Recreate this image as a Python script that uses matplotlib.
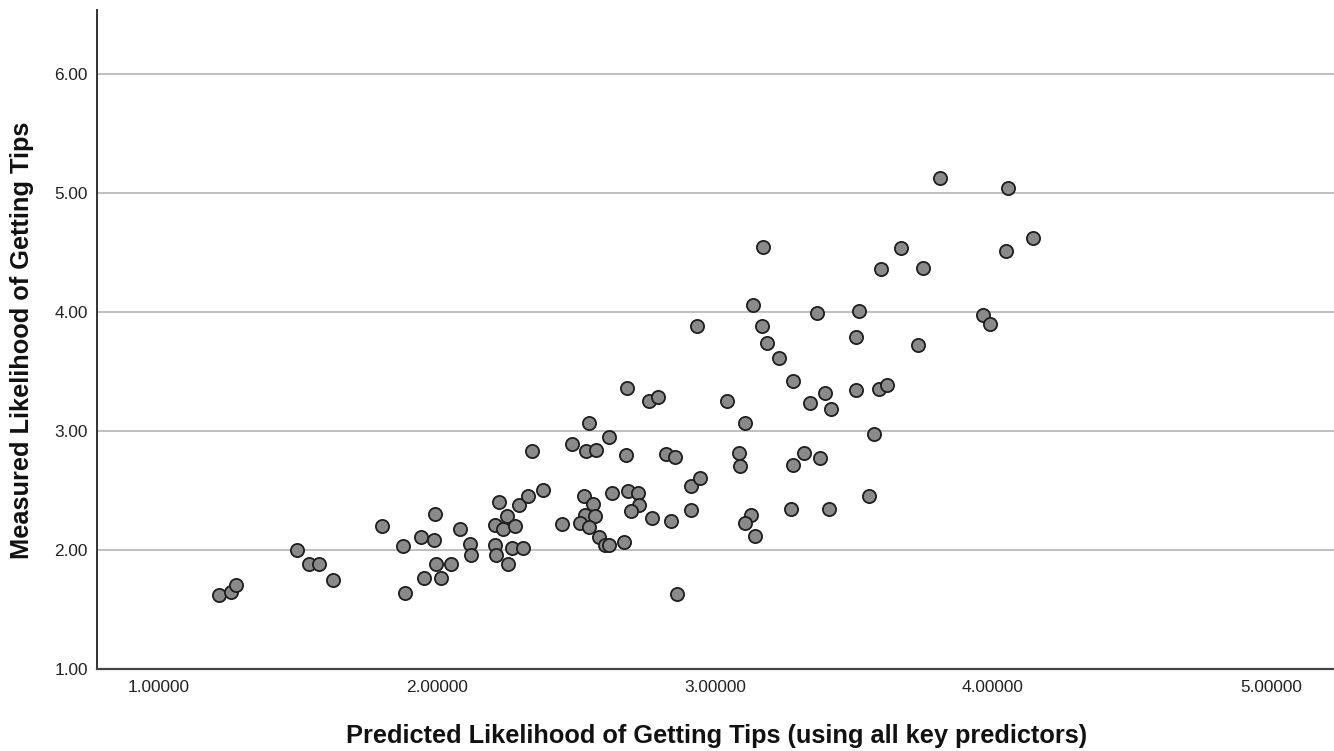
import matplotlib
matplotlib.use("Agg")
import matplotlib.pyplot as plt

# Predicted vs measured likelihood of getting tips
predicted = [
    1.218, 1.259, 1.278, 1.496, 1.541, 1.575, 1.626, 1.803, 1.879, 1.886,
    1.944, 1.990, 1.995, 1.996, 1.953, 2.015, 2.051, 2.082, 2.119, 2.122,
    2.209, 2.224, 2.211, 2.213, 2.239, 2.253, 2.282, 2.272, 2.309, 2.255,
    2.296, 2.327, 2.381, 2.342, 2.451, 2.487, 2.536, 2.572, 2.547, 2.531,
    2.561, 2.534, 2.568, 2.515, 2.548, 2.582, 2.604, 2.618, 2.618, 2.629,
    2.675, 2.682, 2.684, 2.689, 2.722, 2.727, 2.699, 2.764, 2.797, 2.775,
    2.823, 2.856, 2.842, 2.863, 2.915, 2.946, 2.914, 2.936, 3.045, 3.109,
    3.088, 3.090, 3.131, 3.108, 3.143, 3.136, 3.175, 3.171, 3.187, 3.232,
    3.282, 3.343, 3.398, 3.418, 3.280, 3.322, 3.378, 3.274, 3.412, 3.367,
    3.507, 3.507, 3.518, 3.574, 3.556, 3.592, 3.618, 3.597, 3.669, 3.732,
    3.749, 3.810, 3.965, 3.989, 4.046, 4.056, 4.146,
]
measured = [
    1.625, 1.645, 1.706, 1.998, 1.886, 1.886, 1.749, 2.205, 2.034, 1.637,
    2.108, 2.087, 2.301, 1.886, 1.768, 1.768, 1.887, 2.177, 2.050, 1.959,
    2.207, 2.407, 2.039, 1.957, 2.177, 2.287, 2.205, 2.015, 2.015, 1.887,
    2.377, 2.458, 2.507, 2.836, 2.217, 2.888, 2.836, 2.844, 3.065, 2.458,
    2.391, 2.295, 2.287, 2.228, 2.194, 2.110, 2.045, 2.045, 2.955, 2.478,
    2.066, 2.796, 3.367, 2.499, 2.478, 2.377, 2.326, 3.257, 3.286, 2.267,
    2.807, 2.786, 2.247, 1.628, 2.537, 2.605, 2.337, 3.885, 3.257, 3.065,
    2.815, 2.706, 2.298, 2.226, 2.117, 4.064, 4.552, 3.887, 3.744, 3.616,
    3.425, 3.235, 3.325, 3.187, 2.717, 2.814, 2.777, 2.346, 2.346, 3.994,
    3.792, 3.347, 4.011, 2.976, 2.455, 3.355, 3.386, 4.364, 4.543, 3.725,
    4.373, 5.132, 3.975, 3.904, 4.513, 5.043, 4.622,
]

x_ticks = [1, 2, 3, 4, 5]
x_ticklabels = ["1.00000", "2.00000", "3.00000", "4.00000", "5.00000"]
y_ticks = [1, 2, 3, 4, 5, 6]
y_ticklabels = ["1.00", "2.00", "3.00", "4.00", "5.00", "6.00"]

x_label = "Predicted Likelihood of Getting Tips (using all key predictors)"
y_label = "Measured Likelihood of Getting Tips"

plt.rcParams["font.family"] = ["Liberation Sans", "DejaVu Sans"]

fig = plt.figure(figsize=(13.34, 7.51), dpi=100)
ax = fig.add_axes([97 / 1334, 1 - 669 / 751, 1 - 97 / 1334, (669 - 10) / 751])

ax.set_xlim(0.778, 5.227)
ax.set_ylim(1.0, 6.542)

ax.set_yticks(y_ticks)
ax.set_yticklabels(y_ticklabels)
ax.set_xticks(x_ticks)
ax.set_xticklabels(x_ticklabels)

ax.grid(axis="y", color="#b4b4b4", linewidth=1.2)
ax.set_axisbelow(True)

ax.scatter(predicted, measured, s=90, facecolor="#8a8a8a", edgecolor="#1e1e1e",
           linewidth=1.3, zorder=3, clip_on=False)

for side in ["top", "right"]:
    ax.spines[side].set_visible(False)
ax.spines["left"].set_color("#333333")
ax.spines["bottom"].set_color("#444444")
ax.spines["left"].set_linewidth(1.4)
ax.spines["bottom"].set_linewidth(1.6)

ax.tick_params(axis="both", length=0, labelsize=12.4, colors="#222222")
ax.tick_params(axis="x", pad=8)
ax.tick_params(axis="y", pad=6.5)

fig.text(717 / 1334, 1 - 736 / 751, x_label, fontsize=18.3, fontweight="bold",
         color="#111111", ha="center", va="center")
fig.text(22 / 1334, 1 - 340 / 751, y_label, fontsize=18.3, fontweight="bold",
         color="#111111", ha="center", va="center", rotation=90)

fig.savefig("out.png", dpi=100, facecolor="white")
